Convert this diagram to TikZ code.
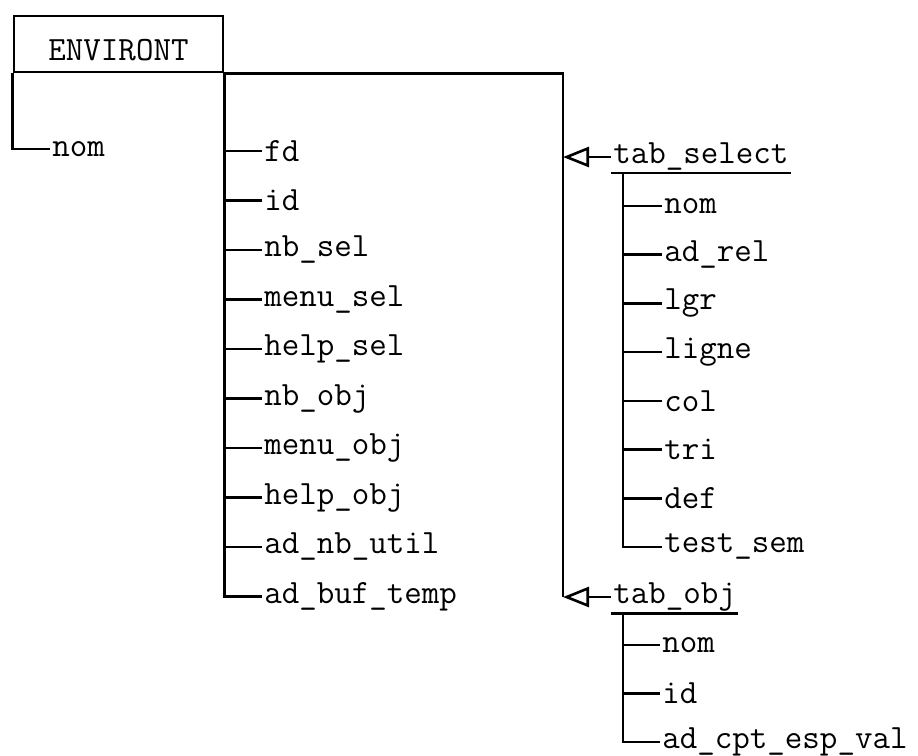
\documentclass[tikz,border=0pt]{standalone}
\usepackage{fontspec}
\usepackage{tikz}
\usetikzlibrary{arrows.meta, positioning, calc}

\tikzset{
  field/.style={anchor=west, inner sep=1pt, font=\fontsize{17}{20}\selectfont\ttfamily},
  link/.style={line width=1.3pt},
  ptr/.style={line width=1.3pt, -{Triangle[open, length=13pt, width=10pt]}},
}

\begin{document}
\begin{tikzpicture}[x=0.5pt, y=-0.5pt]
  \useasboundingbox (0,0) rectangle (918,756);

  % record box
  \node[draw, line width=1.3pt, minimum width=104.5pt, minimum height=28pt, inner sep=0pt,
        text height=16pt, text depth=0pt,
        font=\fontsize{17}{20}\selectfont\ttfamily] (env) at (118.5,44) {ENVIRONT};

  \node[field] (nom) at (50,149) {nom};
  \draw[link] (env.south west) |- (nom.west);

  % fields of the record
  \foreach \name [count=\i] in {fd, id, nb\_sel, menu\_sel, help\_sel, nb\_obj, menu\_obj, help\_obj, ad\_nb\_util, ad\_buf\_temp} {
    \node[field] (m-\i) at (262,{151+49.5*(\i-1)}) {\name};
    \draw[link] (env.south east) |- (m-\i.west);
  }

  % tab_select
  \node[field] (tsel) at (611,157) {tab\_select};
  \draw[link] (tsel.south west) -- (tsel.south east);
  \coordinate (tsel-root) at ([xshift=6pt]tsel.south west);
  \foreach \name [count=\i] in {nom, ad\_rel, lgr, ligne, col, tri, def, test\_sem} {
    \node[field] (ts-\i) at (662,{206+48.7*(\i-1)}) {\name};
    \draw[link] (tsel-root) |- (ts-\i.west);
  }

  % tab_obj
  \node[field] (tobj) at (611,597) {tab\_obj};
  \draw[link] (tobj.south west) -- (tobj.south east);
  \coordinate (tobj-root) at ([xshift=6pt]tobj.south west);
  \foreach \name [count=\i] in {nom, id, ad\_cpt\_esp\_val} {
    \node[field] (to-\i) at (660,{645+48.5*(\i-1)}) {\name};
    \draw[link] (tobj-root) |- (to-\i.west);
  }

  % pointers
  \coordinate (bus) at (563,72);
  \draw[link] (env.south east) -| (bus |- tobj.west);
  \draw[ptr] (tsel.west) -- (bus |- tsel.west);
  \draw[ptr] (tobj.west) -- (bus |- tobj.west);
\end{tikzpicture}
\end{document}
